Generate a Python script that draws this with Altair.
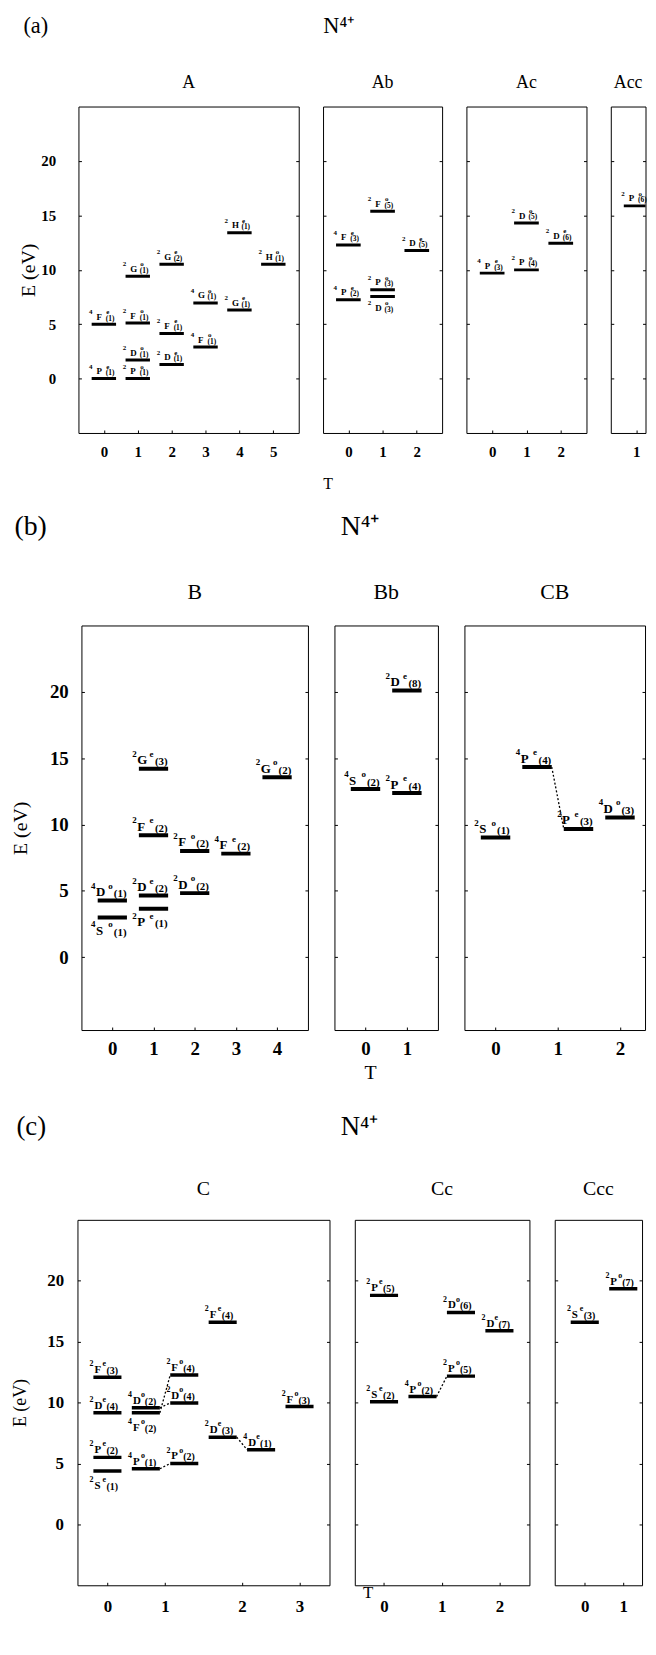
import altair as alt
import pandas as pd

SERIF = "Liberation Serif"

# ---------------- data: section (a) ----------------
A_pos = [0, 1, 1, 2, 2, 1, 2, 0, 1, 3, 3, 4, 4, 5]
A_E = [5.0, 5.1, 9.4, 10.5, 4.15, 1.7, 1.3, 0.0, 0.0, 6.95, 2.9, 6.3, 13.4, 10.5]
A_terms = ["4Fe(1)", "2Fo(1)", "2Go(1)", "2Ge(2)", "2Fe(1)", "2Do(1)", "2De(1)",
           "4Pe(1)", "2Po(1)", "4Go(1)", "4Fo(1)", "2Ge(1)", "2He(1)", "2Ho(1)"]
A_below = [0] * 14

Ab_pos = [1, 0, 2, 0, 1, 1]
Ab_E = [15.38, 12.28, 11.76, 7.25, 8.16, 7.55]
Ab_terms = ["2Fo(5)", "4Fe(3)", "2De(5)", "4Pe(2)", "2Po(3)", "2Do(3)"]
Ab_below = [0, 0, 0, 0, 0, 1]

Ac_pos = [1, 2, 0, 1]
Ac_E = [14.3, 12.43, 9.69, 9.99]
Ac_terms = ["2Do(5)", "2De(6)", "4Pe(3)", "2Po(4)"]
Ac_below = [0, 0, 0, 0]

Acc_pos = [1]
Acc_E = [15.87]
Acc_terms = ["2Po(6)"]
Acc_below = [0]

# ---------------- data: section (b) ----------------
B_pos = [0, 0, 1, 1, 1, 1, 2, 2, 3, 4]
B_E = [4.27, 2.98, 14.2, 9.19, 4.64, 3.65, 8.0, 4.82, 7.8, 13.56]
B_terms = ["4Do(1)", "4So(1)", "2Ge(3)", "2Fe(2)", "2De(2)", "2Pe(1)",
           "2Fo(2)", "2Do(2)", "4Fe(2)", "2Go(2)"]
B_below = [0, 1, 0, 0, 0, 1, 0, 0, 0, 0]

Bb_pos = [0, 1, 1]
Bb_E = [12.67, 12.37, 20.1]
Bb_terms = ["4So(2)", "2Pe(4)", "2De(8)"]
Bb_below = [0, 0, 0]

CB_pos = [0, 1, 2, 3]
CB_E = [9.02, 14.33, 9.66, 10.53]
CB_terms = ["2So(1)", "4Pe(4)", "2Pe(3)", "4Do(3)"]
CB_below = [0, 0, 0, 0]
CB_links = [("4Pe(4)", "2Pe(3)")]

# ---------------- data: section (c) ----------------
C_pos = [0, 0, 0, 0, 1, 1, 1, 2, 2, 2, 3, 3, 4, 5]
C_E = [12.08, 9.16, 5.5, 4.38, 9.57, 9.16, 4.57, 12.27, 9.97, 5.0, 16.6, 7.16, 6.13, 9.67]
C_terms = ["2Fe(3)", "2De(4)", "2Pe(2)", "2Se(1)", "4Do(2)", "4Fo(2)", "4Po(1)",
           "2Fo(4)", "2Do(4)", "2Po(2)", "2Fe(4)", "2De(3)", "4De(1)", "2Fo(3)"]
C_below = [0, 0, 0, 1, 0, 1, 0, 0, 0, 0, 0, 0, 0, 0]
C_links = [("4Fo(2)", "2Fo(4)"), ("4Do(2)", "2Do(4)"), ("4Po(1)", "2Po(2)"), ("2De(3)", "4De(1)")]

Cc_pos = [0, 2, 3, 2, 1, 0]
Cc_E = [18.8, 17.4, 15.9, 12.17, 10.49, 10.06]
Cc_terms = ["2Pe(5)", "2Do(6)", "2De(7)", "2Po(5)", "4Po(2)", "2Se(2)"]
Cc_below = [0, 0, 0, 0, 0, 0]
Cc_links = [("4Po(2)", "2Po(5)")]

Ccc_pos = [0, 1]
Ccc_E = [16.6, 19.35]
Ccc_terms = ["2Se(3)", "2Po(7)"]
Ccc_below = [0, 0]

# tick positions / labels
Y_TICKS = [0, 5, 10, 15, 20]
A_xt, A_xl = [0, 1, 2, 3, 4, 5], ["0", "1", "2", "3", "4", "5"]
Ab_xt, Ab_xl = [0, 1, 2], ["0", "1", "2"]
Ac_xt, Ac_xl = [0, 1, 2], ["0", "1", "2"]
Acc_xt, Acc_xl = [1], ["1"]
B_xt, B_xl = [0, 1, 2, 3, 4], ["0", "1", "2", "3", "4"]
Bb_xt, Bb_xl = [0, 1], ["0", "1"]
CB_xt, CB_xl = [0, 1.5, 3], ["0", "1", "2"]
C_xt, C_xl = [0, 1.5, 3.5, 5], ["0", "1", "2", "3"]
Cc_xt, Cc_xl = [0, 1.5, 3], ["0", "1", "2"]
Ccc_xt, Ccc_xl = [0, 1], ["0", "1"]

ION = "N\u2074\u207a"
EM, THREE_PER_EM, FOUR_PER_EM = "\u2003", "\u2004", "\u2005"

# ---------------- styles ----------------
S_a = dict(height=329, ydom=[-5, 25], hw=0.36, bar=3,
           mult=dict(fs=7, dx=-15, dy=-10), letter=dict(fs=9, dx=-7.5, dy=-4.5),
           parity=dict(fs=7, dx=2.5, dy=-10), idx=dict(fs=7.5, dx=2, dy=-3.5),
           below=19, tick_fs=15, ylabpad=23, xlabpad=12, et_fs=20, et_x=-53,
           pt_fs=18, pt_off=1, T_fs=16)
S_b = dict(height=407.7, ydom=[-5.5, 25], hw=0.355, bar=4,
           mult=dict(fs=9, dx=-21.5, dy=-12), letter=dict(fs=13, dx=-16.5, dy=-4.5),
           parity=dict(fs=9, dx=-4, dy=-12), idx=dict(fs=11, dx=1.5, dy=-3.5),
           below=22, tick_fs=19, ylabpad=13.3, xlabpad=10, et_fs=20, et_x=-64.5,
           pt_fs=22, pt_off=5, T_fs=20)
S_c = dict(height=368.3, ydom=[-5, 25], hw=0.365, bar=3.5,
           mult=dict(fs=8, dx=-18, dy=-11), letter=dict(fs=11, dx=-13, dy=-4),
           parity=dict(fs=8, dx=-5, dy=-11), idx=dict(fs=10, dx=-1, dy=-3),
           below=22, tick_fs=17, ylabpad=14, xlabpad=13.7, et_fs=18, et_x=-60,
           pt_fs=20, pt_off=5, T_fs=17)


def label_expr(vals, labs):
    expr = "''"
    for v, l in reversed(list(zip(vals, labs))):
        expr = f"datum.value == {v} ? '{l}' : {expr}"
    return expr


def make_panel(name, pos, E, terms, below, xdom, width, xt, xl, S,
               first=False, links=None, T=None):
    ppu = S["height"] / (S["ydom"][1] - S["ydom"][0])
    df = pd.DataFrame({"pos": pos, "E": E, "term": terms, "below": below})
    df["mult"] = df.term.str[0]
    df["letter"] = df.term.str[1]
    df["parity"] = df.term.str[2]
    df["idx"] = df.term.str[3:]
    df["x0"] = df.pos - S["hw"]
    df["x1"] = df.pos + S["hw"]
    df["ylab"] = df.E - df.below * S["below"] / ppu

    xscale = alt.Scale(domain=xdom, nice=False, zero=False)
    yscale = alt.Scale(domain=S["ydom"], nice=False, zero=False)

    xkw = dict(values=xt, labelExpr=label_expr(xt, xl), orient="bottom", offset=-3,
               tickSize=3, tickColor="black", tickWidth=1, domain=False, grid=False,
               labelFont=SERIF, labelFontSize=S["tick_fs"], labelFontWeight="bold",
               labelColor="black", labelPadding=S["xlabpad"], labelFlush=False,
               labelOverlap=False)
    if T is not None:
        xkw.update(title="T", titleX=T[0], titleY=T[1], titleFont=SERIF,
                   titleFontSize=S["T_fs"], titleFontWeight="normal", titleColor="black",
                   titleBaseline="middle", titleAlign="center")
    else:
        xkw.update(title=None)
    xaxis = alt.Axis(**xkw)

    ykw = dict(values=Y_TICKS, orient="left", offset=-3, tickSize=3, tickColor="black",
               tickWidth=1, domain=False, grid=False, labels=first,
               labelFont=SERIF, labelFontSize=S["tick_fs"], labelFontWeight="bold",
               labelColor="black", labelPadding=S["ylabpad"])
    if first:
        ykw.update(title="E (eV)", titleX=S["et_x"], titleY=S["height"] / 2,
                   titleAngle=270, titleBaseline="middle", titleAlign="center",
                   titleFont=SERIF, titleFontSize=S["et_fs"], titleFontWeight="normal",
                   titleColor="black")
    else:
        ykw.update(title=None)
    yleft = alt.Axis(**ykw)
    yright = alt.Axis(values=Y_TICKS, orient="right", offset=-3, tickSize=3,
                      tickColor="black", tickWidth=1, domain=False, grid=False,
                      labels=False, title=None)

    base = alt.Chart(df)
    layers = [
        base.mark_rule(strokeWidth=S["bar"], color="black", clip=True).encode(
            x=alt.X("x0:Q", scale=xscale, axis=xaxis), x2="x1:Q",
            y=alt.Y("E:Q", scale=yscale, axis=yleft)),
        base.mark_rule(opacity=0, clip=True).encode(
            x=alt.X("x0:Q", scale=xscale, axis=None), x2="x1:Q",
            y=alt.Y("E:Q", scale=yscale, axis=yright)),
    ]
    for piece in ["mult", "letter", "parity", "idx"]:
        st = S[piece]
        layers.append(base.mark_text(align="left", baseline="alphabetic", dx=st["dx"],
                                     dy=st["dy"], fontSize=st["fs"], fontWeight="bold",
                                     font=SERIF, color="black").encode(
            x=alt.X("pos:Q", scale=xscale, axis=None),
            y=alt.Y("ylab:Q", scale=yscale, axis=None),
            text=f"{piece}:N"))
    if links:
        idx = {t: i for i, t in enumerate(terms)}
        ldf = pd.DataFrame({
            "xa": [pos[idx[a]] + S["hw"] for a, b in links],
            "ya": [E[idx[a]] for a, b in links],
            "xb": [pos[idx[b]] - S["hw"] for a, b in links],
            "yb": [E[idx[b]] for a, b in links],
        })
        layers.append(alt.Chart(ldf).mark_rule(strokeDash=[2, 2], strokeWidth=1.3,
                                               color="black").encode(
            x=alt.X("xa:Q", scale=xscale, axis=None), x2="xb:Q",
            y=alt.Y("ya:Q", scale=yscale, axis=None), y2="yb:Q"))
    return alt.layer(*layers).resolve_axis(x="independent", y="independent").properties(
        width=width, height=S["height"],
        title=alt.TitleParams(text=name, font=SERIF, fontSize=S["pt_fs"],
                              fontWeight="normal", anchor="middle", frame="group",
                              baseline="alphabetic", offset=S["pt_off"], color="black"))


def spacer(w):
    d = pd.DataFrame({"v": [0]})
    return alt.Chart(d).mark_point(size=0, opacity=0).encode(
        x=alt.X("v:Q", axis=None), y=alt.Y("v:Q", axis=None)
    ).properties(width=w, height=1, view=alt.ViewBackground(strokeOpacity=0))


def make_row(head, h_fs, h_dx, h_off, sp_w, panels, spacing):
    inner = alt.hconcat(*panels, spacing=spacing).properties(
        title=alt.TitleParams(text=head, font=SERIF, fontSize=h_fs,
                              fontWeight="normal", anchor="start", baseline="alphabetic",
                              offset=h_off, dx=h_dx, color="black"))
    return alt.hconcat(spacer(sp_w), inner, spacing=0)


row_a = make_row("(a)" + EM * 12 + THREE_PER_EM + ION, 22.5, 5, 18.1, 10, [
    make_panel("A", A_pos, A_E, A_terms, A_below, [-0.75, 5.75], 222, A_xt, A_xl, S_a,
               first=True),
    make_panel("Ab", Ab_pos, Ab_E, Ab_terms, Ab_below, [-0.74, 2.74], 120, Ab_xt, Ab_xl, S_a,
               T=(4.5, 54)),
    make_panel("Ac", Ac_pos, Ac_E, Ac_terms, Ac_below, [-0.75, 2.75], 121, Ac_xt, Ac_xl, S_a),
    make_panel("Acc", Acc_pos, Acc_E, Acc_terms, Acc_below, [0.26, 1.2745], 35, Acc_xt, Acc_xl, S_a),
], 22.5)

row_b = make_row("(b)" + EM * 10 + THREE_PER_EM + FOUR_PER_EM + ION, 28, 4.5, 17.4, 0.5, [
    make_panel("B", B_pos, B_E, B_terms, B_below, [-0.75, 4.75], 228.3, B_xt, B_xl, S_b,
               first=True),
    make_panel("Bb", Bb_pos, Bb_E, Bb_terms, Bb_below, [-0.75, 1.75], 104.3, Bb_xt, Bb_xl, S_b,
               T=(36, 46)),
    make_panel("CB", CB_pos, CB_E, CB_terms, CB_below, [-0.75, 3.604], 182, CB_xt, CB_xl, S_b,
               links=CB_links),
], 24)

row_c = make_row("(c)" + EM * 11 + ION, 27, 5, 16.5, 3, [
    make_panel("C", C_pos, C_E, C_terms, C_below, [-0.78, 5.78], 254, C_xt, C_xl, S_c,
               first=True, links=C_links),
    make_panel("Cc", Cc_pos, Cc_E, Cc_terms, Cc_below, [-0.76, 3.78], 176, Cc_xt, Cc_xl, S_c,
               links=Cc_links, T=(13, 10)),
    make_panel("Ccc", Ccc_pos, Ccc_E, Ccc_terms, Ccc_below, [-0.78, 1.488], 88, Ccc_xt, Ccc_xl, S_c),
], 23.5)

chart = alt.vconcat(
    row_a, alt.vconcat(row_b, row_c, spacing=30), spacing=21
).properties(
    padding={"left": 0, "top": 0, "right": 0, "bottom": 0}
).configure_view(stroke="black", strokeWidth=1)

chart.save("out.html", embed_options={"renderer": "svg", "actions": False})
